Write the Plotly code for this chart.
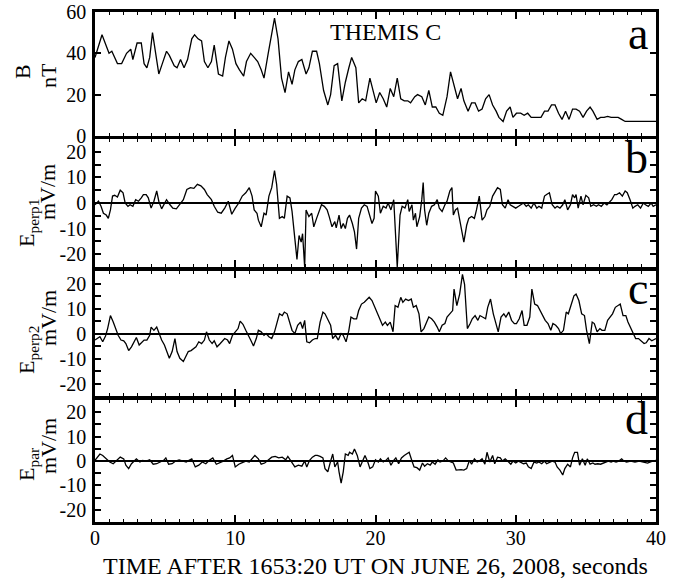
import plotly.graph_objects as go

# ---------------- data ----------------
b_time = [0, 0.5, 1.0, 1.2, 1.6, 1.9, 2.25, 2.55, 2.7, 3.0, 3.3, 3.5, 3.7, 3.9, 4.1, 4.3, 4.55, 4.8,
          5.1, 5.3, 5.65, 5.85, 6.1, 6.35, 6.6, 6.9, 7.1, 7.35, 7.6, 7.8, 8.05, 8.3, 8.5, 8.8, 9.1,
          9.3, 9.55, 9.8, 10.05, 10.3, 10.6, 10.8, 11.1, 11.35, 11.6, 11.85, 12.05, 12.35, 12.8,
          13.05, 13.3, 13.55, 13.8, 14.05, 14.25, 14.5, 14.75, 15.05, 15.25, 15.5, 15.8, 16.0, 16.3,
          16.6, 16.8, 17.05, 17.3, 17.6, 17.85, 18.1, 18.3, 18.6, 18.8, 19.05, 19.3, 19.6, 19.8,
          20.05, 20.3, 20.55, 20.8, 21.05, 21.3, 21.55, 21.8, 22.05, 22.3, 22.5, 22.8, 23.0, 23.3,
          23.55, 23.8, 24.05, 24.3, 24.55, 24.8, 25.1, 25.35, 25.6, 25.85, 26.1, 26.3, 26.6, 26.85,
          27.1, 27.35, 27.6, 27.85, 28.1, 28.35, 28.6, 28.8, 29.1, 29.35, 29.6, 29.8, 30.05, 30.35,
          30.6, 30.85, 31.1, 31.3, 31.6, 31.8, 32.05, 32.3, 32.55, 32.8, 33.05, 33.3, 33.55, 33.8,
          34.05, 34.3, 34.55, 34.8, 35.05, 35.3, 35.5, 35.8, 36.05, 36.3, 36.55, 36.8, 37.05, 37.3,
          37.55, 37.8, 38.05, 38.5, 40.0]
b_field = [38, 49, 40, 41, 35, 35, 40, 42, 37, 45, 45, 35, 33, 38, 50, 40, 30, 35,
           41, 39, 34, 33, 37, 33, 37, 47, 49, 47, 46, 36, 33, 36, 44, 30, 29,
           38, 46, 42, 35, 32, 29, 36, 40, 38, 36, 32, 28, 40, 57,
           47, 28, 21, 31, 25, 32, 36, 37, 30, 33, 41, 41, 35, 22,
           15, 20, 34, 35, 17, 26, 33, 38, 33, 16, 18, 17, 28, 23,
           16, 21, 18, 14, 23, 19, 28, 18, 17, 17, 16, 19, 20, 19,
           15, 22, 14, 14, 11, 10, 19, 31, 24, 18, 23, 17, 12, 16,
           16, 12, 13, 18, 20, 15, 12, 9, 7, 12, 14, 9, 11, 11,
           10, 11, 9, 9, 9, 9, 12, 12, 15, 15, 11, 8, 12, 8,
           13, 13, 12, 9, 12, 14, 12, 8, 9, 9, 9.5, 9, 9, 9,
           8, 7, 7, 7, 7]

e1_time = [0, 0.25, 0.43, 0.6, 0.8, 0.95, 1.1, 1.25, 1.4, 1.6, 1.8, 2.0, 2.15, 2.35, 2.5, 2.7, 2.9,
           3.1, 3.3, 3.45, 3.65, 3.8, 4.0, 4.2, 4.4, 4.55, 4.75, 4.95, 5.1, 5.35, 5.55, 5.8, 6.05,
           6.3, 6.55, 6.8, 7.05, 7.3, 7.55, 7.8, 8.0, 8.3, 8.5, 8.75, 9.0, 9.25, 9.5, 9.75, 10.0,
           10.25, 10.5, 10.75, 11.0, 11.2, 11.35, 11.55, 11.65, 11.85, 12.05, 12.2, 12.4, 12.6,
           12.8, 12.95, 13.15, 13.35, 13.5, 13.7, 13.9, 14.05, 14.25, 14.4, 14.55, 14.7, 14.8,
           14.95, 15.05, 15.25, 15.45, 15.6, 15.8, 16.0, 16.15, 16.35, 16.55, 16.7, 16.9, 17.1,
           17.2, 17.4, 17.55, 17.7, 17.85, 18.0, 18.15, 18.35, 18.5, 18.65, 18.8, 19.0, 19.2,
           19.4, 19.55, 19.75, 19.9, 20.0, 20.2, 20.35, 20.55, 20.75, 20.9, 21.1, 21.3, 21.4,
           21.55, 21.75, 21.9, 22.1, 22.3, 22.4, 22.6, 22.7, 22.85, 22.95, 23.15, 23.3, 23.4,
           23.5, 23.65, 23.8, 24.0, 24.2, 24.4, 24.55, 24.75, 24.95, 25.1, 25.3, 25.45, 25.55,
           25.7, 25.85, 26.0, 26.15, 26.3, 26.5, 26.65, 26.85, 27.05, 27.2, 27.4, 27.6, 27.8,
           27.95, 28.15, 28.35, 28.5, 28.7, 28.9, 29.05, 29.25, 29.45, 29.6, 29.8, 30.0, 30.2,
           30.35, 30.55, 30.75, 30.9, 31.1, 31.3, 31.5, 31.65, 31.85, 32.05, 32.2, 32.4, 32.6,
           32.8, 32.95, 33.15, 33.35, 33.5, 33.7, 33.9, 34.05, 34.2, 34.3, 34.45, 34.65, 34.8,
           35.0, 35.2, 35.35, 35.55, 35.75, 35.9, 36.1, 36.3, 36.5, 36.65, 36.85, 37.05, 37.2,
           37.4, 37.6, 37.8, 37.95, 38.15, 38.35, 38.5, 38.7, 38.9, 39.1, 39.25, 39.45, 39.65,
           39.8, 40.0]
e1_vals = [-0.7, 0.7, -1.3, -4, -4.7, -6, -2.7, 2.7, 3, 2.3, 5, 4, 0, -1.3, -0.7, -1.3, 1.3,
           0.7, 2, 3.3, 3.3, 2, -2, 0.7, 4.7, 0.7, -2.3, 0, 1.3, -0.7, -2, -2.3, -0.7,
           1.3, 5.3, 6, 5.7, 7.3, 6.7, 5.3, 3.3, 1.3, -1.3, -3.6, -4, -2, 0.7, -4.4, -2,
           0, 2.7, 4, 6, 2.7, -2.7, -4, -6.7, -9.3, -4, -4.7, 2.7, 6,
           12.7, 7.3, -6, -5.3, -6, 2.7, 2, -3.3, -14, -22, -12.7, -15.3, -12,
           -25, -2.7, -5.3, -4, -9.3, -6, -3.3, -0.7, -1.3, -2.7, -5.3, -9.3, -7.3,
           -9.7, -4.7, -10, -8, -10, -6, -4.7, -8, -11.3, -18, -6, -2, -0.7,
           -1.3, -4.7, -8, -6, 4.7, 2.7, -4, -1.3, -2, 0, -2.7, 1.3, -8.7,
           -25, -4.7, -1.3, -2, 1.3, -3.3, -0.7, -6.7, -4, -9.3, -5.3, 1.3, 8,
           -2.7, -8.7, -4, -1.3, -0.7, 1.3, -2, -3.3, -0.7, 0.7, 4.7, 6, -4.7,
           -2.7, -2, -6.7, -10, -15.3, -8.7, -6, -5.3, -6, -2.7, 2.7, -6.7, -5.3,
           -2.7, -1.3, 2.7, 4, 6, 5.3, -0.7, -2, 1.3, -0.7, -1.3, -2, -1.3,
           -0.7, 0, -1.3, -0.7, -2, 0, -2, -1.3, -2, 2.7, 3.3, 4, -0.7,
           -2, -1.3, -2, -0.7, 1.3, -2.7, -0.7, 3.3, 2, 3.3, -2, 2.7, -0.7,
           3, 2, -1.3, -0.7, -1.3, -0.7, -1.3, 0, -0.7, 0, 1.3, 3.3, 3.3,
           4, 2.7, 4.7, 4, 1.3, -2, -1.3, -0.7, -2, 0, -0.7, -1.3, 0,
           -1.3, -0.7]

e2_time = [0, 0.2, 0.35, 0.55, 0.75, 0.9, 1.1, 1.3, 1.5, 1.65, 1.85, 2.05, 2.2, 2.4, 2.6, 2.8,
           2.95, 3.15, 3.35, 3.5, 3.7, 3.9, 4.0, 4.2, 4.4, 4.55, 4.75, 4.95, 5.1, 5.3, 5.5, 5.7,
           5.85, 6.05, 6.3, 6.5, 6.65, 6.85, 7.05, 7.2, 7.4, 7.6, 7.8, 7.95, 8.15, 8.35, 8.5,
           8.7, 8.9, 9.05, 9.25, 9.45, 9.6, 9.8, 10.0, 10.2, 10.35, 10.55, 10.75, 10.9, 11.1,
           11.3, 11.5, 11.65, 11.85, 12.05, 12.2, 12.4, 12.6, 12.8, 12.95, 13.15, 13.35, 13.5,
           13.7, 13.9, 14.05, 14.25, 14.45, 14.65, 14.8, 14.95, 15.1, 15.3, 15.5, 15.7, 15.85,
           16.05, 16.25, 16.4, 16.6, 16.8, 16.95, 17.15, 17.35, 17.55, 17.7, 17.9, 18.1, 18.25,
           18.45, 18.65, 18.8, 19.0, 19.2, 19.4, 19.55, 19.75, 19.95, 20.1, 20.3, 20.5, 20.7,
           20.85, 21.05, 21.25, 21.4, 21.6, 21.8, 21.95, 22.15, 22.35, 22.55, 22.7, 22.9, 23.1,
           23.25, 23.45, 23.65, 23.8, 24.0, 24.2, 24.4, 24.55, 24.75, 24.95, 25.1, 25.3, 25.5,
           25.6, 25.8, 26.0, 26.2, 26.35, 26.55, 26.75, 26.9, 27.1, 27.3, 27.45, 27.65, 27.85,
           28.0, 28.2, 28.4, 28.6, 28.75, 28.95, 29.15, 29.3, 29.5, 29.7, 29.9, 30.05, 30.25,
           30.45, 30.6, 30.8, 31.0, 31.15, 31.35, 31.55, 31.75, 31.9, 32.1, 32.3, 32.5, 32.65,
           32.85, 33.05, 33.2, 33.4, 33.6, 33.75, 33.95, 34.15, 34.3, 34.5, 34.7, 34.9, 35.05,
           35.25, 35.45, 35.6, 35.8, 36.0, 36.15, 36.35, 36.55, 36.7, 36.9, 37.1, 37.3, 37.45,
           37.65, 37.85, 38.0, 38.2, 38.4, 38.55, 38.75, 38.95, 39.15, 39.3, 39.5, 39.7, 40.0]
e2_vals = [-2.6, -2, -1.3, -3.3, -1, 2, 7.2, 4.6, 1.3, -0.7, -2.6, -2.9, -4, -6.8, -5.3, -3.3,
           -1.6, -4.6, -3.3, -2.6, -2.6, -0.7, 2.6, 1.3, 2.6, 0, -2.6, -4.6, -7.2, -9.9, -7.2, -2,
           -7.2, -9.9, -11.2, -9.2, -7.2, -6.8, -5.9, -5.3, -3.3, -4, -2.6, 0.7, -2.6, -4, -2.9,
           -5.3, -4.2, -3.3, -2, -2.6, -4, -0.7, 0.7, 2, 5, 3.7, 1.3, -0.7, -2.6,
           -5, -2, 1.3, 0.7, -0.7, 0, -1.3, -2, 0.7, 4, 7.9, 7.2, 8.6,
           7.9, 4.6, 1.3, 0, 3.3, 4.6, 2, 5.3, -3.3, -3.7, -2.6, -2, -2,
           4.6, 8.6, 7.9, 5.9, 3.3, -2, -0.7, -2.6, 0, -0.7, -3.3, 1.3, 6.6,
           5.9, 5.9, 9.2, 11.8, 12.5, 13.8, 14.5, 13.2, 10.5, 8.6, 5.9, 3.3, 4.6,
           3.3, 4.6, 0.7, 11.2, 10.5, 14.5, 12.5, 13.8, 13.2, 13.8, 10.5, 11.2, 7.9,
           0.7, 2, 4.6, 6.6, 5.9, 4.6, 2.6, 0.7, 3.3, 4, 6.6, 7.9, 9.2,
           17.8, 11.2, 15.8, 23.7, 19.7, 2, 4, 5.9, 7.2, 5.3, 7.2, 6.6, 5.9,
           10.5, 13.8, 7.9, 3.3, 0.7, 6.6, 7.9, 6.6, 8.6, 5.3, 4, 4, 5.9,
           9.2, 3.3, 3.3, 6.6, 17.8, 11.8, 11.2, 9.2, 7.9, 5.3, 4, 1.3, 4,
           3.3, 2, 0, 1.3, 8.6, 7.9, 11.2, 15.1, 15.8, 13.2, 7.9, 7.2, 1.3,
           -4, 4.6, 4, 0.7, 2, 1.3, 1.3, 5.3, 6.6, 7.9, 10.5, 11.2, 11.8,
           7.2, 7.2, 4.6, 2, 0, -2, -2, -2.9, -4, -3.7, -2, -2.9, -2]

ep_time = [0, 0.2, 0.35, 0.55, 0.8, 1.05, 1.3, 1.55, 1.8, 2.05, 2.2, 2.4, 2.6, 2.8, 2.95, 3.2,
           3.4, 3.65, 3.9, 4.15, 4.4, 4.65, 4.9, 5.05, 5.25, 5.5, 5.75, 6.0, 6.25, 6.5, 6.7, 6.9,
           7.15, 7.4, 7.65, 7.9, 8.15, 8.4, 8.65, 8.9, 9.15, 9.4, 9.6, 9.8, 10.0, 10.25, 10.5,
           10.75, 11.0, 11.25, 11.4, 11.65, 11.85, 12.1, 12.35, 12.6, 12.85, 13.1, 13.35, 13.6,
           13.75, 14.0, 14.25, 14.5, 14.75, 14.95, 15.1, 15.3, 15.5, 15.7, 15.85, 16.05, 16.25,
           16.4, 16.6, 16.8, 16.95, 17.1, 17.3, 17.4, 17.55, 17.7, 17.85, 18.05, 18.15, 18.35,
           18.5, 18.7, 18.9, 19.05, 19.25, 19.45, 19.6, 19.8, 20.0, 20.2, 20.35, 20.55, 20.75,
           20.9, 21.1, 21.3, 21.45, 21.65, 21.85, 22.05, 22.2, 22.4, 22.6, 22.75, 22.95, 23.15,
           23.35, 23.5, 23.7, 23.9, 24.05, 24.25, 24.45, 24.6, 24.8, 25.0, 25.2, 25.35, 25.55,
           25.75, 25.95, 26.1, 26.3, 26.5, 26.7, 26.85, 27.05, 27.25, 27.4, 27.6, 27.8, 27.95,
           28.15, 28.35, 28.5, 28.7, 28.9, 29.05, 29.25, 29.45, 29.65, 29.8, 30.0, 30.2, 30.35,
           30.55, 30.75, 30.9, 31.1, 31.3, 31.5, 31.65, 31.85, 32.05, 32.2, 32.4, 32.6, 32.8,
           32.95, 33.15, 33.35, 33.5, 33.7, 33.9, 34.05, 34.2, 34.4, 34.55, 34.75, 34.95, 35.1,
           35.3, 35.5, 35.65, 35.85, 36.05, 36.25, 36.4, 36.6, 36.8, 36.95, 37.15, 37.35, 37.55,
           37.7, 37.9, 38.2, 38.5, 38.8, 39.1, 39.4, 39.75, 40.0]
ep_vals = [0.3, 1.6, 2.9, 2.3, 0.9, -0.4, -1.1, 0.3, 1.6, 0.9, -1.7, -3.1, -1.1, 0, 0.9, -0.4,
           0.3, 0, 0.5, -1.3, -1.1, -0.4, 0.3, 1.3, -1.3, -1.1, 0, 0.5, 0, -0.4, 0.3, 0.9,
           -2.4, -1.7, -0.4, -1.1, 0.3, 1.3, -1.3, -0.8, 0, 0.9, 1.3, 2.3, -2.4, -1.3, -0.8,
           0, -0.4, 1.3, 2.3, 0.9, -1.3, -0.8, 0.3, 1.6, 1.9, 1.3, 1.6, 0.5,
           1.9, -0.4, -2.4, -1.7, -2.1, 0, -2.4, 0.3, 1.6, 2.3, 2.3, 1.9, 1.3,
           -3.1, -4.4, 0, 2.9, -2.4, -0.4, -4.4, -9.1, -4.4, 2.9, 2.3, 3.6, 2.9,
           4.9, 2.3, -2.4, -0.4, 2.3, -0.4, -3.1, -2.4, 0.5, -0.4, 0.9, -0.4, 0.3,
           1.3, -1.7, 0.3, 1.3, -1.1, 1.3, 2.3, 2.9, 3.6, 0, -2.4, -2.7, -3.7,
           -0.8, -2.1, -1.1, -1.7, -0.4, -1.3, 0.5, -0.4, 0, 1.3, 0, -0.4, -0.8,
           -3.7, -3.5, -3.5, -3.7, -3.1, 0.3, -1.3, 0.9, -0.4, 0, 0.9, -1.3, 3.6,
           -0.4, 2.3, -1.1, 1.6, 1.3, 0, 0.9, -0.4, -1.3, 0, -0.8, 0, -0.4,
           -1.1, -0.8, -2.4, -3.1, -0.4, -0.8, -0.4, -1.1, 0, -1.1, -0.4, 0, -0.4,
           -2.4, -3.7, -5.7, -3.1, -1.3, -2.4, 1.3, 3.6, 3.6, -1.7, 0.9, -1.7, 0.9,
           -1.3, -0.8, -1.3, -1.1, -1.3, -0.8, -0.4, 0, -0.4, 0, -0.4, 0, 0.9,
           0, -0.4, 0, -0.4, 0, -0.4, -0.8, 0, 0.3]

x_tickvals = [0, 10, 20, 30, 40]
x_ticktext = ["0", "10", "20", "30", "40"]
b_tickvals = [0, 20, 40, 60]
b_ticktext = ["0", "20", "40", "60"]
e_tickvals = [-20, -10, 0, 10, 20]
e_ticktext = ["-20", "-10", "0", "10", "20"]
panel_letters = ["a", "b", "c", "d"]
y_names = ["B", "E<sub>perp1</sub>", "E<sub>perp2</sub>", "E<sub>par</sub>"]
y_units = ["nT", "mV/m", "mV/m", "mV/m"]
inst_label = "THEMIS C"
x_title = "TIME AFTER 1653:20 UT ON JUNE 26, 2008, seconds"

# ---------------- figure ----------------
FONT = "Liberation Serif"
W, H = 678, 579
ML, MR, MT, MB = 95, 22, 12, 57
PW = W - ML - MR
PH = H - MT - MB

def px_x(px):
    return (px - ML) / PW

def px_y(py):
    return (H - MB - py) / PH

domains = [[0.757, 1.0], [0.5, 0.751], [0.247, 0.492], [0.0, 0.239]]
letter_y = [1.012, 0.769, 0.512, 0.257]
name_cx = [22, 28, 28, 28]         # pixel centres (x) of the rotated names
name_cy = [72, 223, 350, 465]      # pixel centres (y) of the rotated names
unit_cy = [75, 192, 318, 446]      # pixel centres (y) of the rotated units
series = [(b_time, b_field), (e1_time, e1_vals), (e2_time, e2_vals), (ep_time, ep_vals)]

fig = go.Figure()
layout = dict(
    width=W, height=H,
    margin=dict(l=ML, r=MR, t=MT, b=MB, autoexpand=False),
    paper_bgcolor="white", plot_bgcolor="white",
    showlegend=False,
    font=dict(family=FONT, color="black", size=20),
)

for i, (xs, ys) in enumerate(series):
    n = i + 1
    xa = "x" if n == 1 else f"x{n}"
    ya = "y" if n == 1 else f"y{n}"
    fig.add_trace(go.Scatter(x=xs, y=ys, mode="lines", xaxis=xa, yaxis=ya,
                             line=dict(color="black", width=1.3)))
    xkey = "xaxis" if n == 1 else f"xaxis{n}"
    ykey = "yaxis" if n == 1 else f"yaxis{n}"
    layout[xkey] = dict(
        domain=[0, 1], anchor=ya, range=[0, 40], automargin=False,
        tickvals=x_tickvals, ticktext=x_ticktext, showticklabels=(n == 4),
        ticks="inside", ticklen=7, tickwidth=1.5, tickcolor="black",
        minor=dict(dtick=1, tick0=0, ticks="inside", ticklen=3, tickwidth=1.3, tickcolor="black"),
        showline=True, linecolor="black", linewidth=2.5, mirror="allticks",
        showgrid=False, zeroline=False, tickfont=dict(size=20, family=FONT),
        ticklabelstandoff=-4,
    )
    if n == 4:
        layout[xkey]["title"] = dict(text=x_title, font=dict(size=24, family=FONT), standoff=12)
    if n == 1:
        yd = dict(range=[0, 60], tickvals=b_tickvals, ticktext=b_ticktext, zeroline=False)
    else:
        yd = dict(range=[-25, 25], tickvals=e_tickvals, ticktext=e_ticktext,
                  zeroline=True, zerolinecolor="black", zerolinewidth=2.2,
                  minor=dict(dtick=5, tick0=0, ticks="inside", ticklen=6, tickwidth=1.5,
                             tickcolor="black"))
    yd.update(dict(
        domain=domains[i], anchor=xa, automargin=False,
        ticks="inside", ticklen=6, tickwidth=1.5, tickcolor="black",
        showline=True, linecolor="black", linewidth=2.5, mirror="allticks",
        showgrid=False, tickfont=dict(size=20, family=FONT), ticklabelstandoff=2,
    ))
    layout[ykey] = yd

fig.update_layout(**layout)

for i, letter in enumerate(panel_letters):
    fig.add_annotation(xref="paper", yref="paper", x=0.99, y=letter_y[i],
                       xanchor="right", yanchor="top", showarrow=False,
                       text=letter, font=dict(family=FONT, size=46, color="black"))
    fig.add_annotation(xref="paper", yref="paper", x=px_x(name_cx[i]), y=px_y(name_cy[i]),
                       xanchor="center", yanchor="middle", showarrow=False, textangle=-90,
                       text=y_names[i], font=dict(family=FONT, size=22, color="black"))
    fig.add_annotation(xref="paper", yref="paper", x=px_x(48), y=px_y(unit_cy[i]),
                       xanchor="center", yanchor="middle", showarrow=False, textangle=-90,
                       text=y_units[i], font=dict(family=FONT, size=22, color="black"))

fig.add_annotation(xref="paper", yref="paper", x=px_x(385), y=0.99,
                   xanchor="center", yanchor="top", showarrow=False,
                   text=inst_label, font=dict(family=FONT, size=24, color="black"))

fig.write_html("out.html")
